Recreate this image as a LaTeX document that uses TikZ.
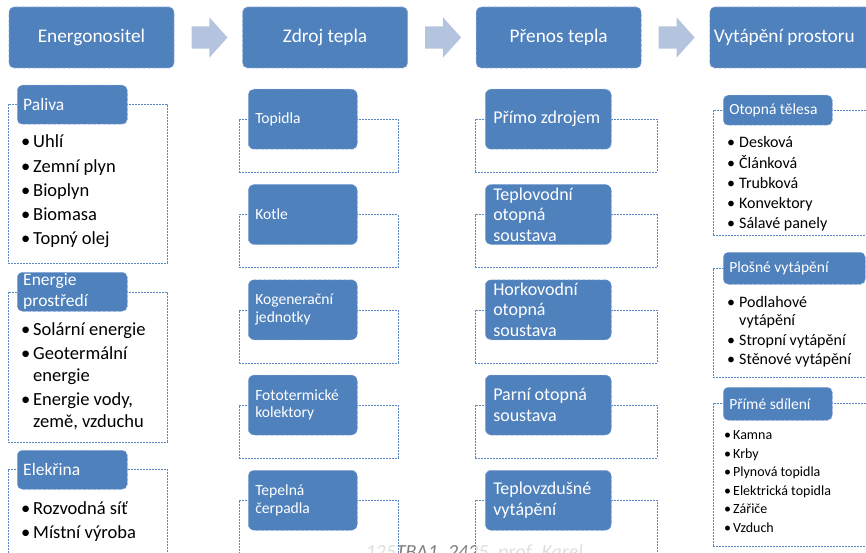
\documentclass[tikz,border=0pt]{standalone}
\usepackage{fontspec}
\setmainfont{Carlito}
\usetikzlibrary{shapes.arrows, positioning}
\definecolor{modra}{HTML}{4F81BD}
\definecolor{modraokraj}{HTML}{8BA7D6}
\definecolor{ramecmodra}{HTML}{5B87C5}
\definecolor{sipkamodra}{HTML}{B4C4DE}
\definecolor{vodoznak}{HTML}{7F7F7F}
\newcommand{\bod}[1][12pt]{\makebox[#1][l]{•}}
\tikzset{
  % hlavni krok retezce
  hlavicka/.style={draw=modraokraj, densely dashed, line width=0.6pt, fill=modra,
    rounded corners=5pt, minimum width=165pt, minimum height=61pt, inner sep=0pt,
    text=white, font=\fontsize{19.3}{23}\selectfont},
  % sipka mezi kroky
  sipka/.style={single arrow, fill=sipkamodra, draw=none, minimum height=36pt,
    single arrow head extend=9pt, single arrow tip angle=96, inner xsep=0pt, inner ysep=11pt},
  % prerusovany ramecek skupiny
  ramec/.style={draw=ramecmodra, dash pattern=on 2pt off 1pt, line width=0.6pt,
    fill=white, fill opacity=0.75, anchor=north west, inner sep=0pt},
  % modry stitek s nadpisem skupiny
  stitek/.style={draw=modraokraj, densely dashed, line width=0.5pt, fill=modra,
    rounded corners=5pt, text=white, anchor=north west, align=flush left, inner xsep=6pt,
    inner ysep=0pt, font=\fontsize{17.5}{21}\selectfont},
  % modry blok v prostrednich sloupcich
  blok/.style={draw=modraokraj, densely dashed, line width=0.5pt, fill=modra,
    rounded corners=6pt, text=white, anchor=north west, align=flush left, inner ysep=0pt,
    minimum height=60pt},
  % odrazkovy seznam
  seznam/.style={anchor=base west, align=flush left, inner sep=0pt, text width=150pt,
    font=\fontsize{18.5}{22}\selectfont},
  % text v zapati
  zapati/.style={anchor=base west, text=vodoznak, font=\fontsize{20}{24}\selectfont\itshape},
}
\begin{document}
\begin{tikzpicture}[x=1pt, y=-1pt]
  \useasboundingbox (0,0) rectangle (866,553);
  \clip (0,0) rectangle (866,553);
  \node[zapati] (znacka) at (362,558) {125TBA1\_2425, prof. Karel};

  % hlavicky a sipky
  \node[hlavicka] (nositel) at (91.5,37.5) {Energonositel};
  \node[hlavicka, right=68pt of nositel] (zdroj) {Zdroj tepla};
  \node[hlavicka, right=68pt of zdroj] (prenos) {Přenos tepla};
  \node[hlavicka, right=68pt of prenos, text width=157pt, align=flush left] (vytapeni) {Vytápění prostoru};
  \node[sipka, right=17pt of nositel] (s1) {};
  \node[sipka, right=17pt of zdroj] (s2) {};
  \node[sipka, right=17pt of prenos] (s3) {};

  % energonositel
  \node[ramec, minimum width=159pt, minimum height=159pt] (palivar) at (8,104) {};
  \node[stitek, text width=98pt, minimum height=39pt] (paliva) at (17,85) {Paliva};
  \node[seznam] (palivas) at (21,148) {\bod Uhlí\\[2.2pt]\bod Zemní plyn\\[2.2pt]\bod Bioplyn\\[2.2pt]\bod Biomasa\\[2.2pt]\bod Topný olej};
  \node[ramec, minimum width=159pt, minimum height=150pt] (prostredir) at (8,292) {};
  \node[stitek, text width=98pt, minimum height=39pt] (prostredi) at (17,272) {Energie\\prostředí};
  \node[seznam] (prostredis) at (21,335) {\bod Solární energie\\[2.2pt]\bod Geotermální\\\hspace*{12pt}energie\\[2.2pt]\bod Energie vody,\\\hspace*{12pt}země, vzduchu};
  \node[ramec, minimum width=159pt, minimum height=95pt] (elektrinar) at (8,469) {};
  \node[stitek, text width=98pt, minimum height=39pt] (elektrina) at (17,450) {Elekřina};
  \node[seznam] (elektrinas) at (21,514) {\bod Rozvodná síť\\[2.2pt]\bod Místní výroba};

  % zdroj tepla
  \foreach \txt [count=\i from 0] in {Topidla, Kotle, {Kogenerační\\jednotky},
      {Fototermické\\kolektory}, {Tepelná\\čerpadla}} {
    \node[ramec, minimum width=159pt, minimum height=53pt] (zdrojr\i) at (239,119+95.25*\i) {};
    \node[blok, text width=95pt, inner xsep=7pt, font=\fontsize{15.6}{17.5}\selectfont]
      (zdroj\i) at (248,89+95.25*\i) {\txt};
  }

  % prenos tepla
  \foreach \txt [count=\i from 0] in {Přímo zdrojem, {Teplovodní\\otopná\\soustava},
      {Horkovodní\\otopná\\soustava}, {Parní otopná\\soustava}, {Teplovzdušné\\vytápění}} {
    \node[ramec, minimum width=182pt, minimum height=53pt] (prenosr\i) at (475,119+95.25*\i) {};
    \node[blok, text width=110pt, inner xsep=8pt, font=\fontsize{18}{20.5}\selectfont]
      (prenos\i) at (485,89+95.25*\i) {\txt};
  }

  % vytapeni prostoru
  \node[ramec, minimum width=170pt, minimum height=125pt] (telesar) at (713,110) {};
  \node[stitek, text width=97pt, minimum height=30pt, font=\fontsize{15.5}{18}\selectfont]
    (telesa) at (723,95) {Otopná tělesa};
  \node[seznam, font=\fontsize{16}{20.25}\selectfont] (telesas) at (727,148)
    {\bod Desková\\\bod Článková\\\bod Trubková\\\bod Konvektory\\\bod Sálavé panely};
  \node[ramec, minimum width=170pt, minimum height=109pt] (plosner) at (713,268) {};
  \node[stitek, text width=130pt, minimum height=32pt, font=\fontsize{15.5}{18}\selectfont]
    (plosne) at (723,252) {Plošné vytápění};
  \node[seznam, font=\fontsize{16}{18.5}\selectfont] (plosnes) at (727,307)
    {\bod Podlahové\\\hspace*{12pt}vytápění\\[1pt]\bod Stropní vytápění\\[1pt]\bod Stěnové vytápění};
  \node[ramec, minimum width=170pt, minimum height=143pt] (primer) at (713,403) {};
  \node[stitek, text width=97pt, minimum height=33pt, font=\fontsize{15.5}{18}\selectfont]
    (prime) at (723,387) {Přímé sdílení};
  \node[seznam, font=\fontsize{14}{18.6}\selectfont] (primes) at (724,439.5)
    {\bod[9pt]Kamna\\\bod[9pt]Krby\\\bod[9pt]Plynová topidla\\\bod[9pt]Elektrická topidla\\\bod[9pt]Zářiče\\\bod[9pt]Vzduch};
\end{tikzpicture}
\end{document}
